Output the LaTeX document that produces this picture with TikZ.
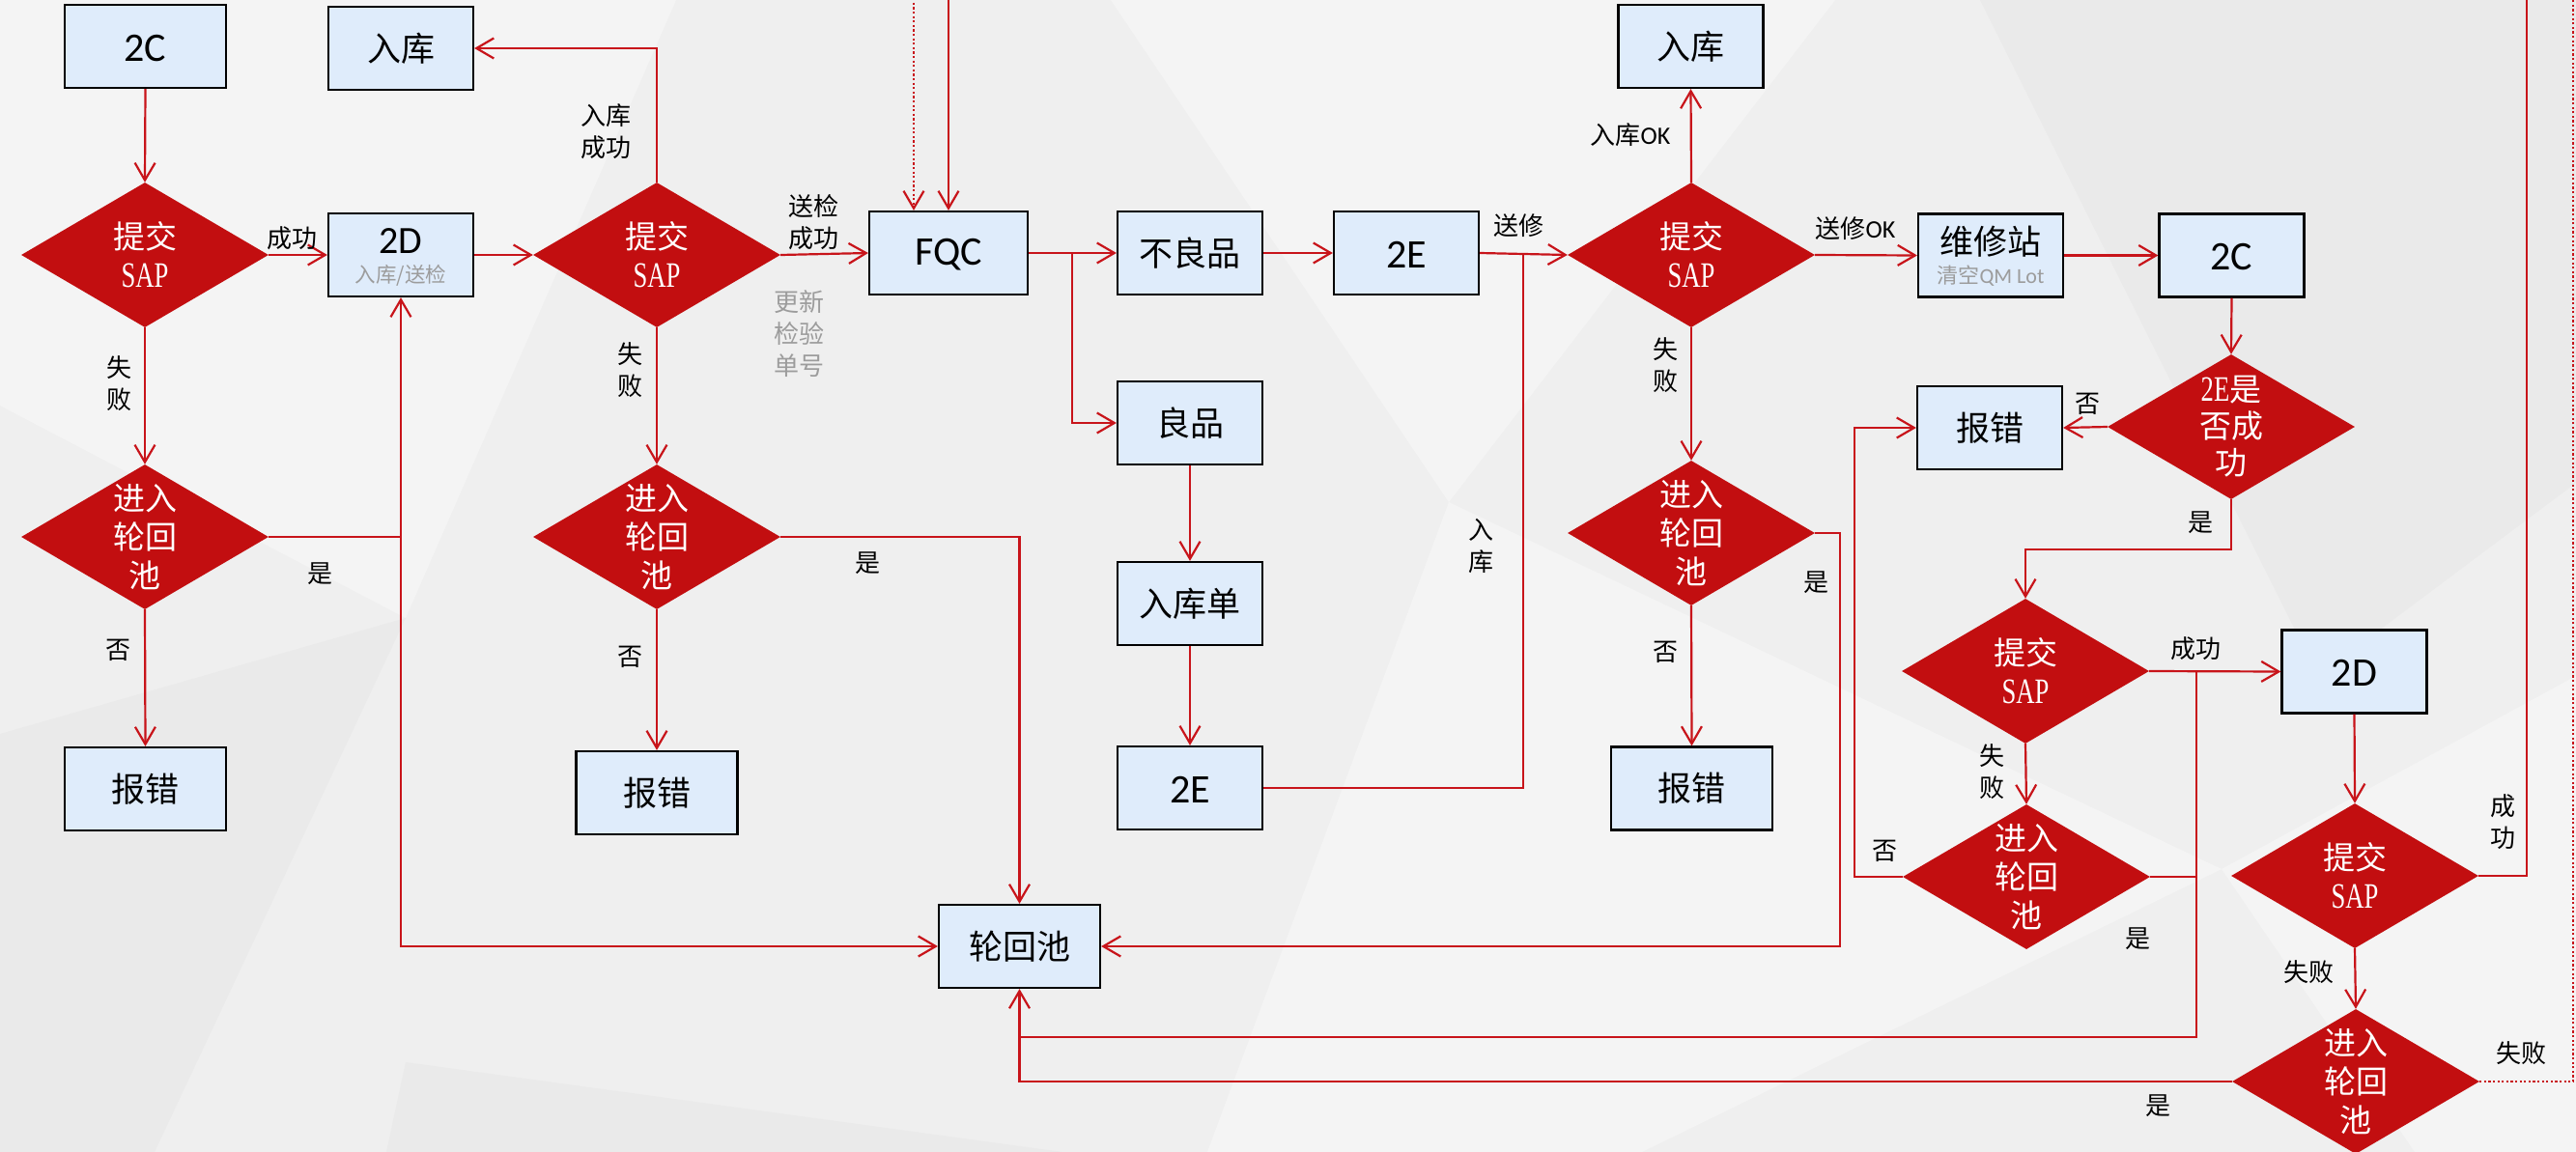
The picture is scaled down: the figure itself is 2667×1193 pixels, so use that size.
\documentclass[tikz,border=0pt]{standalone}
\usepackage{fontspec}
\usepackage{graphicx}
\setmainfont{Noto Sans CJK SC}
\newfontfamily\latf{Carlito}
\newfontfamily\sapf{Liberation Serif}
\usetikzlibrary{arrows.meta,shapes.geometric}
\definecolor{dred}{HTML}{C20E10}
\definecolor{lred}{HTML}{C8141A}
\definecolor{boxfill}{HTML}{DFECFB}
\definecolor{bgbase}{HTML}{EFEFEF}
\definecolor{bga}{HTML}{F4F4F4}
\definecolor{bgb}{HTML}{EAEAEA}
\definecolor{subgray}{HTML}{9C9C9C}
\newcommand{\sapw}[1]{{\fontsize{37}{40}\sapf\scalebox{0.72}[1]{#1}}}
\tikzset{
  boxn/.style={draw=black, line width=2.2pt, fill=boxfill, minimum width=150pt, minimum height=86pt, inner sep=0pt, font=\fontsize{35}{40}\selectfont},
  wboxn/.style={boxn, minimum width=167pt},
  latn/.style={font=\fontsize{42}{46}\selectfont\latf},
  dia/.style={diamond, fill=dred, draw=none, minimum width=256pt, minimum height=150pt, inner sep=0pt},
  dtxt/.style={text=white, font=\fontsize{33}{40}\selectfont, align=center, inner sep=0pt},
  lab/.style={font=\fontsize{26}{33}\selectfont, align=center, inner sep=0pt, text=black},
  glab/.style={lab, text=subgray},
  subt/.style={font=\fontsize{21.5}{26}\selectfont, text=subgray, inner sep=0pt},
  ln/.style={draw=lred, line width=2.2pt},
  arr/.style={ln, -{Straight Barb[length=18pt,width=21pt,line width=2.2pt]}},
  dotln/.style={arr, dash pattern=on 2.2pt off 2.4pt}
}
\begin{document}
\begin{tikzpicture}[x=1pt,y=-1pt]
\useasboundingbox (0,0) rectangle (2667,1193);
\clip (0,0) rectangle (2667,1193);
% background
\fill[bgbase] (0,0) rectangle (2667,1193);
\fill[bga] (0,0) -- (700,0) -- (420,640) -- (0,420) -- cycle;
\fill[bga] (1150,0) -- (1900,0) -- (1500,520) -- cycle;
\fill[bgb] (0,760) -- (420,640) -- (160,1193) -- (0,1193) -- cycle;
\fill[bgb] (420,1100) -- (1100,1193) -- (400,1193) -- cycle;
\fill[bga] (1500,520) -- (2300,900) -- (1700,1193) -- (1250,1193) -- cycle;
\fill[bgb] (2050,0) -- (2667,0) -- (2667,500) -- (2400,700) -- cycle;
\fill[bga] (2300,900) -- (2667,700) -- (2667,1193) -- (2500,1193) -- cycle;

% left column
\node[wboxn] (c2L) at (150.5,48) {};
\node[latn] (c2Lt) at (150.5,50) {2C};
\node[boxn] (ruL) at (415,50) {入库};
\node[dia, label={[dtxt]center:提交\\\sapw{SAP}}] (D1) at (150,264) {};
\node[boxn] (b2D) at (415,264) {};
\node[latn, font=\fontsize{40}{44}\selectfont\latf] (b2Dt) at (415,250) {2D};
\node[subt] (b2Ds) at (415,285) {入库/送检};
\node[dia, label={[dtxt]center:提交\\\sapw{SAP}}] (D2) at (680,264) {};
\node[dia, label={[dtxt]center:进入\\轮回\\池}] (D3) at (150,556) {};
\node[dia, label={[dtxt]center:进入\\轮回\\池}] (D4) at (680,556) {};
\node[wboxn] (errL) at (150.5,817) {报错};
\node[wboxn] (errM) at (680,821) {报错};

% middle
\node[boxn, minimum width=164pt] (FQC) at (982,262) {};
\node[latn] (FQCt) at (982,264) {FQC};
\node[boxn] (bad) at (1232,262) {不良品};
\node[boxn] (e2) at (1456,262) {};
\node[latn] (e2t) at (1456,264) {2E};
\node[boxn] (good) at (1232,438) {良品};
\node[boxn] (ticket) at (1232,625) {入库单};
\node[boxn] (e2b) at (1232,816) {};
\node[latn] (e2bt) at (1232,818) {2E};
\node[wboxn] (pool) at (1055.5,980) {轮回池};

% right part
\node[boxn] (ruR) at (1750.5,48) {入库};
\node[dia, label={[dtxt]center:提交\\\sapw{SAP}}] (D5) at (1751,264) {};
\node[dia, label={[dtxt]center:进入\\轮回\\池}] (D9) at (1751,552) {};
\node[wboxn] (errR1) at (1751.5,816.5) {报错};
\node[boxn] (rep) at (2061,264.5) {};
\node[font=\fontsize{35}{40}\selectfont, inner sep=0pt] (rept) at (2061,250) {维修站};
\node[subt, font=\fontsize{22}{26}\selectfont] (reps) at (2061,286) {清空{\latf QM Lot}};
\node[boxn] (c2R) at (2310.5,264.5) {};
\node[latn] (c2Rt) at (2310.5,266) {2C};
\node[dia, label={[dtxt, font=\fontsize{33}{38}\selectfont]center:\sapw{2E}是\\否成\\功}] (D6) at (2310,442) {};
\node[boxn] (errR2) at (2060,443) {报错};
\node[dia, label={[dtxt]center:提交\\\sapw{SAP}}] (D7) at (2097,695) {};
\node[boxn] (d2R) at (2437.5,695.5) {};
\node[latn] (d2Rt) at (2437.5,697) {2D};
\node[dia, label={[dtxt]center:进入\\轮回\\池}] (D10) at (2098,908) {};
\node[dia, label={[dtxt]center:提交\\\sapw{SAP}}] (D8) at (2438,907) {};
\node[dia, label={[dtxt]center:进入\\轮回\\池}] (D11) at (2439,1120) {};

% junction coordinates
\coordinate (j1) at (415,556);
\coordinate (j2) at (1110,262);
\coordinate (j3) at (1577,262);
\coordinate (j4) at (2274,695);
\coordinate (j5) at (2274,1074);
\coordinate (j6) at (1055.5,1074);
\coordinate (j7) at (2274,908);
\coordinate (j8) at (1905,552);
\coordinate (j9) at (1920,908);
\coordinate (j10) at (2310,569);
\coordinate (t1) at (2616,907);
\coordinate (t2) at (2616,-30);
\coordinate (t3) at (2664,1120);
\coordinate (t4) at (2664,-40);

% connectors left
\draw[arr] (c2L.south) -- (D1.north);
\draw[arr] (D1.east) -- (b2D.west);
\draw[arr] (D1.south) -- (D3.north);
\draw[arr] (D3.south) -- (errL.north);
\draw[ln] (D3.east) -- (j1);
\draw[arr] (j1) -- (b2D.south);
\draw[arr] (j1) |- (pool.west);
\draw[arr] (b2D.east) -- (D2.west);
\draw[arr] (D2.north) |- (ruL.east);
\draw[arr] (D2.east) -- (FQC.west);
\draw[arr] (D2.south) -- (D4.north);
\draw[arr] (D4.south) -- (errM.north);
\draw[arr] (D4.east) -| (pool.north);
% middle
\draw[ln] (FQC.east) -- (j2);
\draw[arr] (j2) -- (bad.west);
\draw[arr] (j2) |- (good.west);
\draw[arr] (bad.east) -- (e2.west);
\draw[arr] (e2.east) -- (D5.west);
\draw[ln] (e2b.east) -| (j3);
\draw[arr] (good.south) -- (ticket.north);
\draw[arr] (ticket.south) -- (e2b.north);
% right
\draw[arr] (D5.north) -- (ruR.south);
\draw[arr] (D5.east) -- (rep.west);
\draw[arr] (D5.south) -- (D9.north);
\draw[arr] (D9.south) -- (errR1.north);
\draw[arr] (D9.east) -- (j8) |- (pool.east);
\draw[arr] (rep.east) -- (c2R.west);
\draw[arr] (c2R.south) -- (D6.north);
\draw[arr] (D6.west) -- (errR2.east);
\draw[arr] (D6.south) -- (j10) -| (D7.north);
\draw[arr] (D7.east) -- (d2R.west);
\draw[ln] (j4) -- (j5) -- (j6);
\draw[ln] (D10.east) -- (j7);
\draw[arr] (D7.south) -- (D10.north);
\draw[arr] (D10.west) -- (j9) |- (errR2.west);
\draw[arr] (d2R.south) -- (D8.north);
\draw[arr] (D8.east) -- (t1) -- (t2) -| (FQC.north);
\draw[arr] (D8.south) -- (D11.north);
\draw[arr] (D11.west) -| (pool.south);
\draw[dotln] (D11.east) -- (t3) -- (t4) -| ([xshift=-36pt]FQC.north);

% labels
\node[lab] (l1) at (302,247) {成功};
\node[lab] (l2) at (123,397) {失\\败};
\node[lab] (l3) at (122,673) {否};
\node[lab] (l4) at (331,594) {是};
\node[lab] (l5) at (627,136) {入库\\成功};
\node[lab] (l6) at (842,230) {送检\\成功};
\node[glab] (l7) at (827,346) {更新\\检验\\单号};
\node[lab] (l8) at (652,383) {失\\败};
\node[lab] (l9) at (652,680) {否};
\node[lab] (l10) at (898,583) {是};
\node[lab] (l11) at (1572,234) {送修};
\node[lab] (l12) at (1533,565) {入\\库};
\node[lab] (l13) at (1688,140) {入库{\latf OK}};
\node[lab] (l14) at (1921,237) {送修{\latf OK}};
\node[lab] (l15) at (1724,378) {失\\败};
\node[lab] (l16) at (1724,675) {否};
\node[lab] (l17) at (1880,603) {是};
\node[lab] (l18) at (2161,418) {否};
\node[lab] (l19) at (2278,541) {是};
\node[lab] (l20) at (2273,672) {成功};
\node[lab] (l21) at (2062,799) {失\\败};
\node[lab] (l22) at (1951,881) {否};
\node[lab] (l23) at (2213,972) {是};
\node[lab] (l24) at (2591,851) {成\\功};
\node[lab] (l25) at (2390,1007) {失败};
\node[lab] (l26) at (2234,1145) {是};
\node[lab] (l27) at (2610,1091) {失败};
\end{tikzpicture}
\end{document}
